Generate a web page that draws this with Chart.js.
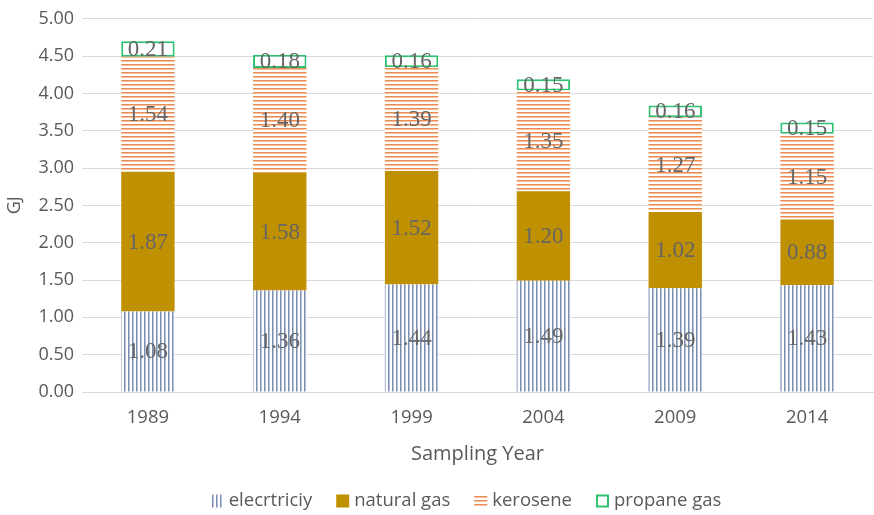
<!DOCTYPE html>
<html>
<head>
<meta charset="utf-8">
<script src="https://cdn.jsdelivr.net/npm/chart.js@4"></script>
<style>
html,body{margin:0;padding:0;background:#fff;}
#wrap{width:874px;height:515px;position:relative;}
</style>
</head>
<body>
<div id="wrap"><canvas id="c" width="874" height="515"></canvas></div>
<script>
const years = ['1989','1994','1999','2004','2009','2014'];
const electricity = [1.08,1.36,1.44,1.49,1.39,1.43];
const naturalGas = [1.87,1.58,1.52,1.20,1.02,0.88];
const kerosene = [1.54,1.40,1.39,1.35,1.27,1.15];
const propane = [0.21,0.18,0.16,0.15,0.16,0.15];
const yTicks = ['0.00','0.50','1.00','1.50','2.00','2.50','3.00','3.50','4.00','4.50','5.00'];

const FONT = '"Open Sans", sans-serif';

function makePattern(kind){
  const p = document.createElement('canvas');
  p.width = 4; p.height = 4;
  const g = p.getContext('2d');
  g.fillStyle = '#ffffff'; g.fillRect(0,0,4,4);
  if(kind==='v'){
    g.fillStyle = '#7c8fb3'; g.fillRect(0,0,1,4);
    g.fillStyle = '#b3bfd6'; g.fillRect(1,0,1,4);
  } else {
    g.fillStyle = '#ee8a52'; g.fillRect(0,0,4,1);
    g.fillStyle = '#f6c2a0'; g.fillRect(0,1,4,1);
  }
  return g.createPattern(p,'repeat');
}
const ctx = document.getElementById('c').getContext('2d');
const vPat = makePattern('v');
const hPat = makePattern('h');

const labelPlugin = {
  id:'segLabels',
  afterDatasetsDraw(chart){
    const c = chart.ctx;
    c.save();
    c.font = '23px "Liberation Serif", "Times New Roman", serif';
    c.fillStyle = '#656565';
    c.textAlign = 'center';
    c.textBaseline = 'middle';
    chart.data.datasets.forEach((ds,i)=>{
      const meta = chart.getDatasetMeta(i);
      meta.data.forEach((el,j)=>{
        const v = ds.data[j];
        c.fillText(v.toFixed(2), el.x, (el.y+el.base)/2 + 1);
      });
    });
    c.restore();
  }
};

const legendPlugin = {
  id:'customLegend',
  afterDraw(chart){
    const c = chart.ctx;
    c.save();
    c.font = '18.5px ' + FONT;
    const box = 13, gapText = 5, gapItem = 24;
    const items = chart.data.datasets.map(ds=>({ds, w: c.measureText(ds.label).width}));
    let total = 0;
    items.forEach((it,i)=>{ total += box + gapText + it.w + (i<items.length-1?gapItem:0); });
    let x = 466 - total/2;
    const cy = 501;
    c.textBaseline = 'middle';
    c.textAlign = 'left';
    items.forEach(it=>{
      const ds = it.ds;
      c.fillStyle = ds.backgroundColor;
      c.fillRect(x, cy-box/2, box, box);
      if(ds.borderWidth){
        c.strokeStyle = ds.borderColor; c.lineWidth = 2;
        c.strokeRect(x+1, cy-box/2+1, box-2, box-2);
      }
      c.fillStyle = '#595959';
      c.fillText(ds.label, x+box+gapText, cy);
      x += box + gapText + it.w + gapItem;
    });
    c.restore();
  }
};

new Chart(ctx,{
  type:'bar',
  data:{
    labels: years,
    datasets:[
      {label:'elecrtriciy', data: electricity, backgroundColor: vPat, borderWidth:0},
      {label:'natural gas', data: naturalGas, backgroundColor: '#bf9000', borderWidth:0},
      {label:'kerosene', data: kerosene, backgroundColor: hPat, borderWidth:0},
      {label:'propane gas', data: propane, backgroundColor: '#ffffff', borderColor:'#2fc070', borderWidth:2, borderSkipped:false}
    ]
  },
  options:{
    responsive:false,
    animation:false,
    devicePixelRatio:1,
    layout:{padding:{top:16,right:1,left:0,bottom:43}},
    datasets:{bar:{categoryPercentage:1, barPercentage:0.405}},
    plugins:{
      legend:{display:false},
      tooltip:{enabled:false}
    },
    scales:{
      x:{
        stacked:true,
        grid:{display:false, drawTicks:false},
        border:{display:true, color:'#d9d9d9', width:1},
        ticks:{color:'#595959', padding:15, font:{family:FONT, size:18.5}},
        title:{display:true, text:'Sampling Year', color:'#595959', padding:{top:6,bottom:6}, font:{family:FONT, size:20}},
        afterFit(s){ s.height = 80; }
      },
      y:{
        stacked:true,
        min:0, max:5,
        grid:{color:'#d9d9d9', lineWidth:1, drawTicks:false},
        border:{display:false},
        ticks:{stepSize:0.5, color:'#595959', padding:8, font:{family:FONT, size:18},
          callback:(v,i)=>yTicks[i]},
        title:{display:true, text:'GJ', color:'#595959', padding:{top:4,bottom:0}, font:{family:FONT, size:18}},
        afterFit(s){ s.width = 82; }
      }
    }
  },
  plugins:[labelPlugin, legendPlugin]
});
</script>
</body>
</html>
